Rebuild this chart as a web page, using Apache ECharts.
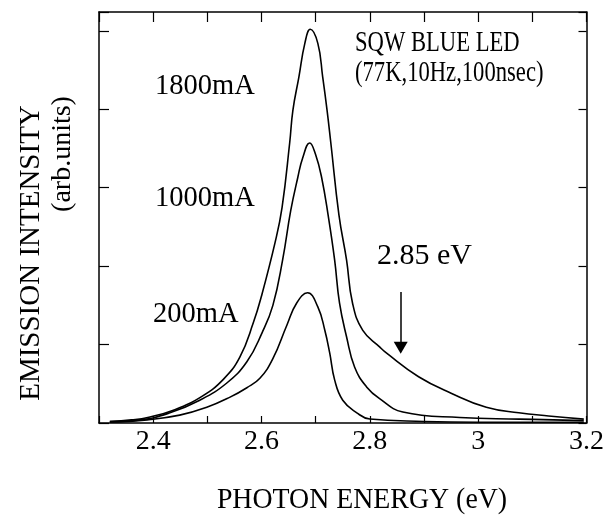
<!DOCTYPE html>
<html>
<head>
<meta charset="utf-8">
<script src="https://cdn.jsdelivr.net/npm/echarts@6/dist/echarts.min.js"></script>
<style>
  html, body { margin: 0; padding: 0; background: #fff; }
  #chart { width: 607px; height: 526px; }
</style>
</head>
<body>
<div id="chart"></div>
<script>
// photon energy (eV) / intensity (arb. units)
const e1800 = [2.32, 2.36, 2.39, 2.44, 2.49, 2.53, 2.56, 2.585, 2.60, 2.625, 2.638, 2.652, 2.658, 2.669, 2.680, 2.690, 2.704, 2.713, 2.721, 2.728, 2.743, 2.757, 2.768, 2.787, 2.818, 2.831, 2.89, 2.95, 3.015, 3.075, 3.13, 3.195];
const i1800 = [0.02, 0.04, 0.07, 0.17, 0.34, 0.56, 0.84, 1.28, 1.62, 2.30, 2.75, 3.57, 3.99, 4.41, 4.84, 5.02, 4.84, 4.41, 3.99, 3.57, 2.65, 2.08, 1.53, 1.18, 0.97, 0.89, 0.59, 0.38, 0.20, 0.13, 0.09, 0.05];

const e1000 = [2.32, 2.376, 2.431, 2.486, 2.536, 2.573, 2.601, 2.621, 2.639, 2.654, 2.667, 2.676, 2.689, 2.700, 2.711, 2.723, 2.735, 2.744, 2.757, 2.772, 2.794, 2.818, 2.861, 2.966, 3.076, 3.195];
const i1000 = [0.02, 0.04, 0.13, 0.29, 0.51, 0.78, 1.15, 1.50, 2.08, 2.71, 3.13, 3.38, 3.57, 3.42, 3.13, 2.65, 2.08, 1.53, 1.10, 0.71, 0.46, 0.31, 0.14, 0.07, 0.05, 0.03];

const e200 = [2.32, 2.389, 2.449, 2.499, 2.542, 2.573, 2.597, 2.621, 2.647, 2.665, 2.685, 2.704, 2.717, 2.726, 2.735, 2.750, 2.776, 2.800, 2.90, 3.0, 3.1, 3.195];
const i200 = [0.01, 0.04, 0.10, 0.20, 0.33, 0.45, 0.57, 0.82, 1.25, 1.53, 1.66, 1.48, 1.18, 0.89, 0.55, 0.29, 0.13, 0.05, 0.02, 0.01, 0.01, 0.01];

// arrow marking the 2.85 eV shoulder (x, top, tip)
const arrowE = 2.857;
const arrowFrom = 1.67;
const arrowTo = 0.96;

const xMin = 2.3, xMax = 3.2, xStep = 0.1;
const yMin = 0, yMax = 5.24, yStep = 1;

const serif = '"Liberation Serif", "Times New Roman", serif';

function pairs(xs, ys) {
  return xs.map((x, k) => [x, ys[k]]);
}

let myChart = echarts.init(document.getElementById('chart'));

function xLabel(v) {
  let t = Math.round(v * 10);
  if (t % 2 !== 0) return '';
  return String(t / 10);
}

let lineStyle = { color: '#000', width: 1.6 };

let option = {
  animation: false,
  backgroundColor: '#fff',
  grid: { left: 99, top: 12, right: 20, bottom: 103 },
  xAxis: [
    {
      type: 'value', min: xMin, max: xMax, interval: xStep,
      axisLine: { onZero: false, lineStyle: { color: '#000', width: 1.5 } },
      axisTick: { inside: true, length: 7, lineStyle: { color: '#000', width: 1.2 } },
      axisLabel: { formatter: xLabel, color: '#000', fontFamily: serif, fontSize: 28, margin: 5 },
      splitLine: { show: false }
    },
    {
      type: 'value', position: 'top', min: xMin, max: xMax, interval: xStep,
      axisLine: { onZero: false, lineStyle: { color: '#000', width: 1.5 } },
      axisTick: { inside: true, length: 10, lineStyle: { color: '#000', width: 1.2 } },
      axisLabel: { show: false },
      splitLine: { show: false }
    }
  ],
  yAxis: [
    {
      type: 'value', min: yMin, max: yMax, interval: yStep,
      axisLine: { show: true, onZero: false, lineStyle: { color: '#000', width: 1.5 } },
      axisTick: { show: true, inside: true, length: 10, lineStyle: { color: '#000', width: 1.2 } },
      axisLabel: { show: false },
      splitLine: { show: false }
    },
    {
      type: 'value', position: 'right', min: yMin, max: yMax, interval: yStep,
      axisLine: { show: true, onZero: false, lineStyle: { color: '#000', width: 1.5 } },
      axisTick: { show: true, inside: true, length: 8, lineStyle: { color: '#000', width: 1.2 } },
      axisLabel: { show: false },
      splitLine: { show: false }
    }
  ],
  series: [
    {
      name: '1800mA', type: 'line', data: pairs(e1800, i1800),
      showSymbol: false, smooth: 0.45, lineStyle: lineStyle,
      markLine: {
        silent: true,
        symbol: ['none', 'triangle'],
        symbolSize: [14, 12],
        label: { show: false },
        lineStyle: { color: '#000', width: 1.5, type: 'solid' },
        itemStyle: { color: '#000' },
        data: [[{ coord: [arrowE, arrowFrom] }, { coord: [arrowE, arrowTo] }]]
      }
    },
    { name: '1000mA', type: 'line', data: pairs(e1000, i1000), showSymbol: false, smooth: 0.45, lineStyle: lineStyle },
    { name: '200mA', type: 'line', data: pairs(e200, i200), showSymbol: false, smooth: 0.45, lineStyle: lineStyle }
  ],
  graphic: [
    { type: 'text', x: 155, y: 86, scaleX: 0.95, style: { text: '1800mA', font: '30px ' + serif, fill: '#000', textAlign: 'left', textVerticalAlign: 'middle' } },
    { type: 'text', x: 155, y: 198, scaleX: 0.95, style: { text: '1000mA', font: '30px ' + serif, fill: '#000', textAlign: 'left', textVerticalAlign: 'middle' } },
    { type: 'text', x: 153, y: 314, scaleX: 0.95, style: { text: '200mA', font: '30px ' + serif, fill: '#000', textAlign: 'left', textVerticalAlign: 'middle' } },
    { type: 'text', x: 355, y: 43, scaleX: 0.78, style: { text: 'SQW BLUE LED', font: '29px ' + serif, fill: '#000', textAlign: 'left', textVerticalAlign: 'middle' } },
    { type: 'text', x: 355, y: 73, scaleX: 0.78, style: { text: '(77K,10Hz,100nsec)', font: '29px ' + serif, fill: '#000', textAlign: 'left', textVerticalAlign: 'middle' } },
    { type: 'text', x: 377, y: 256, style: { text: '2.85 eV', font: '30px ' + serif, fill: '#000', textAlign: 'left', textVerticalAlign: 'middle' } },
    { type: 'text', x: 362, y: 500, scaleX: 0.96, style: { text: 'PHOTON ENERGY (eV)', font: '29px ' + serif, fill: '#000', textAlign: 'center', textVerticalAlign: 'middle' } },
    { type: 'text', x: 31, y: 253, rotation: Math.PI / 2, style: { text: 'EMISSION INTENSITY', font: '29px ' + serif, fill: '#000', textAlign: 'center', textVerticalAlign: 'middle' } },
    { type: 'text', x: 63, y: 154, rotation: Math.PI / 2, style: { text: '(arb.units)', font: '28px ' + serif, fill: '#000', textAlign: 'center', textVerticalAlign: 'middle' } }
  ]
};

myChart.setOption(option);
window.addEventListener('resize', function () { myChart.resize(); });
</script>
</body>
</html>
